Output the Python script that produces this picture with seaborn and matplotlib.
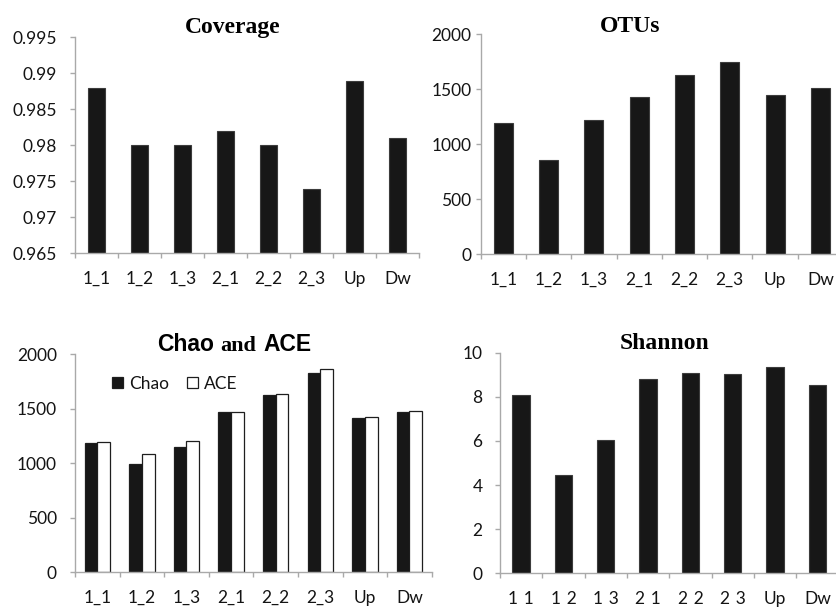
import numpy as np
import pandas as pd
import matplotlib
matplotlib.use("Agg")
import matplotlib.pyplot as plt
from matplotlib.ticker import FixedLocator
import seaborn as sns

# Samples along the x axis
categories = ["1_1", "1_2", "1_3", "2_1", "2_2", "2_3", "Up", "Dw"]
shannon_labels = ["1\u20041", "1\u20042", "1\u20043", "2\u20041",
                  "2\u20042", "2\u20043", "Up", "Dw"]

# Good's coverage
coverage = [0.988, 0.980, 0.980, 0.982, 0.980, 0.974, 0.989, 0.981]
coverage_ticks = [0.965, 0.970, 0.975, 0.980, 0.985, 0.990, 0.995]
coverage_ticklabels = ["0.965", "0.97", "0.975", "0.98", "0.985", "0.99", "0.995"]

# Observed OTUs
otus = [1195, 857, 1221, 1427, 1627, 1748, 1448, 1515]

# Richness estimators
chao = [1190, 997, 1147, 1474, 1627, 1832, 1419, 1474]
ace = [1199, 1089, 1202, 1468, 1633, 1869, 1422, 1477]

# Shannon diversity
shannon = [8.10, 4.44, 6.06, 8.81, 9.06, 9.05, 9.34, 8.52]

W, H = 837, 607
sns.set_theme(style="white")
plt.rcParams["font.family"] = ["Lato", "DejaVu Sans"]

AXIS_GRAY = "#a9a9a9"
BAR = "#171717"
BAR_EDGE = "#3c3c3c"
TEXT = "#141414"
TICK_SIZE = 12.5

fig = plt.figure(figsize=(W / 100, H / 100), dpi=100)
fig.patch.set_facecolor("white")


def add_axes(left, right, top, bottom):
    return fig.add_axes([left / W, 1 - bottom / H, (right - left) / W, (bottom - top) / H])


def style(ax, ylim, yticks, yticklabels, xlabels, ypad, xpad):
    ax.set_xlim(-0.5, 7.5)
    ax.set_ylim(*ylim)
    ax.set_yticks(yticks)
    ax.set_yticklabels(yticklabels)
    ax.set_xticks(range(len(xlabels)))
    ax.set_xticklabels(xlabels)
    ax.xaxis.set_minor_locator(FixedLocator(np.arange(-0.5, len(xlabels) + 0.5, 1)))
    ax.tick_params(axis="x", which="major", length=0, pad=xpad,
                   labelsize=TICK_SIZE, labelcolor=TEXT)
    ax.tick_params(axis="x", which="minor", bottom=True, length=3.6, width=1,
                   color=AXIS_GRAY, direction="out")
    ax.tick_params(axis="y", which="major", left=True, length=3.6, width=1,
                   color=AXIS_GRAY, direction="out", pad=ypad,
                   labelsize=TICK_SIZE, labelcolor=TEXT)
    for s in ["top", "right"]:
        ax.spines[s].set_visible(False)
    for s in ["left", "bottom"]:
        ax.spines[s].set_color(AXIS_GRAY)
        ax.spines[s].set_linewidth(1)
    ax.set_xlabel("")
    ax.set_ylabel("")
    ax.set_facecolor("none")


def serif_title(x, y, text):
    fig.text(x / W, 1 - y / H, text, ha="center", va="baseline",
             family="Liberation Serif", weight="bold", size=17, color="black")


# Coverage
ax1 = add_axes(75, 419, 37.3, 253.3)
sns.barplot(x=categories, y=coverage, ax=ax1, color=BAR, width=0.4,
            saturation=1, edgecolor=BAR_EDGE, linewidth=0.8)
style(ax1, (0.965, 0.995), coverage_ticks, coverage_ticklabels, categories, 9.5, 12.5)
serif_title(233, 32.7, "Coverage")

# OTUs
ax2 = add_axes(480.7, 843, 34.3, 254.3)
sns.barplot(x=categories, y=otus, ax=ax2, color=BAR, width=0.42,
            saturation=1, edgecolor=BAR_EDGE, linewidth=0.8)
style(ax2, (0, 2000), [0, 500, 1000, 1500, 2000],
      ["0", "500", "1000", "1500", "2000"], categories, 3, 12.5)
serif_title(630, 32.3, "OTUs")

# Chao and ACE
rich = pd.DataFrame({
    "sample": categories * 2,
    "estimator": ["Chao"] * len(chao) + ["ACE"] * len(ace),
    "value": chao + ace,
})
ax3 = add_axes(75, 431.7, 354.3, 572.3)
sns.barplot(data=rich, x="sample", y="value", hue="estimator", ax=ax3,
            palette={"Chao": BAR, "ACE": "white"}, width=0.57, saturation=1,
            edgecolor="#1e1e1e", linewidth=0.9)
style(ax3, (0, 2000), [0, 500, 1000, 1500, 2000],
      ["0", "500", "1000", "1500", "2000"], categories, 9.5, 12.5)
sns.move_legend(ax3, "center left", bbox_to_anchor=(112 / W, 1 - 383.7 / H),
                bbox_transform=fig.transFigure, ncol=2, title=None, frameon=False,
                fontsize=TICK_SIZE, handlelength=0.66, handleheight=0.66,
                handletextpad=0.3, columnspacing=1.05, borderpad=0, borderaxespad=0)
for t in ax3.get_legend().get_texts():
    t.set_color(TEXT)

ty = 1 - 350.7 / H
fig.text(156.7 / W, ty, "Chao", ha="left", va="baseline",
         family="Liberation Sans", weight="bold", size=16.5, color="black")
fig.text(220 / W, ty, "and", ha="left", va="baseline",
         family="Liberation Serif", weight="bold", size=16, color="black")
fig.text(263.3 / W, ty, "ACE", ha="left", va="baseline",
         family="Liberation Sans", weight="bold", size=16.5, color="black")

# Shannon
ax4 = add_axes(500, 838.6, 352.7, 573.3)
sns.barplot(x=categories, y=shannon, ax=ax4, color=BAR, width=0.41,
            saturation=1, edgecolor=BAR_EDGE, linewidth=0.8)
style(ax4, (0, 10), [0, 2, 4, 6, 8, 10],
      ["0", "2", "4", "6", "8", "10"], shannon_labels, 9, 12.5)
serif_title(665, 349.3, "Shannon")

fig.savefig("out.png", dpi=100, facecolor="white")
